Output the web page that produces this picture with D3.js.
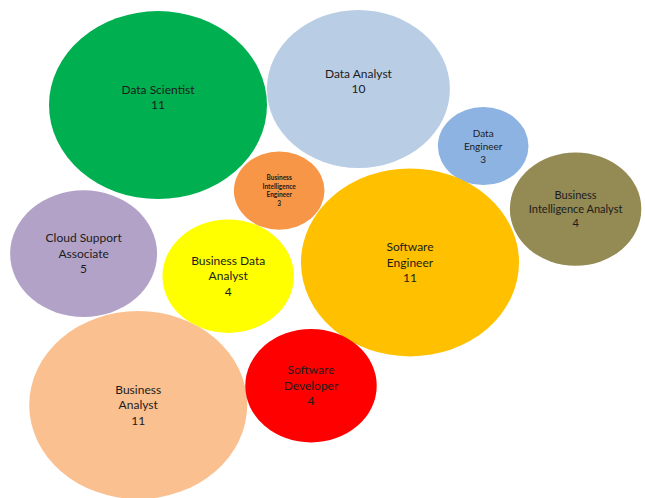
<!DOCTYPE html>
<html>
<head>
<meta charset="utf-8">
<script src="https://cdn.jsdelivr.net/npm/d3@7"></script>
<style>
  html, body { margin: 0; padding: 0; background: #fff; }
  svg { display: block; }
  .bubble-label { font-family: "Lato", "Open Sans", sans-serif; fill: #1c1c1c; }
</style>
</head>
<body>
<div id="chart"></div>
<script>
// job titles, counts shown in the labels, and bubble positions/sizes
const jobTitles = [
  "Data Scientist",
  "Data Analyst",
  "Data Engineer",
  "Business Intelligence Engineer",
  "Business Intelligence Analyst",
  "Software Engineer",
  "Cloud Support Associate",
  "Business Data Analyst",
  "Business Analyst",
  "Software Developer",
];

const jobCounts = [11, 10, 3, 3, 4, 11, 5, 4, 11, 4];

// x / y in chart units (0-10), bubble size as drawn (area)
const xValues = [2.3, 5.64, 7.72, 4.32, 9.26, 6.5, 1.06, 3.47, 1.97, 4.85];
const yValues = [8.15, 8.5, 7.26, 6.29, 5.89, 4.73, 4.92, 4.43, 1.63, 2.05];
const bubbleSizes = [11, 7.75, 1.9, 1.9, 4, 11, 5, 4, 11, 4];

// label text split into lines as in the reference
const labelLines = [
  ["Data Scientist"],
  ["Data Analyst"],
  ["Data", "Engineer"],
  ["Business", "Intelligence", "Engineer"],
  ["Business", "Intelligence Analyst"],
  ["Software", "Engineer"],
  ["Cloud Support", "Associate"],
  ["Business Data", "Analyst"],
  ["Business", "Analyst"],
  ["Software", "Developer"],
];

const colorMap = new Map([
  ["Data Scientist", "#00b050"],
  ["Data Analyst", "#b9cde5"],
  ["Data Engineer", "#8db3e2"],
  ["Business Intelligence Engineer", "#f79646"],
  ["Business Intelligence Analyst", "#948a54"],
  ["Software Engineer", "#ffc000"],
  ["Cloud Support Associate", "#b3a2c7"],
  ["Business Data Analyst", "#ffff00"],
  ["Business Analyst", "#fac090"],
  ["Software Developer", "#ff0000"],
]);

// label font size (px) per bubble; excel shrank some labels
const fontMap = new Map([
  ["Data Engineer", 10],
  ["Business Intelligence Engineer", 6.5],
  ["Business Intelligence Analyst", 11],
]);

const width = 645;
const height = 498;

const data = jobTitles.map((name, i) => ({
  name,
  count: jobCounts[i],
  x: xValues[i],
  y: yValues[i],
  size: bubbleSizes[i],
  lines: labelLines[i].concat([String(jobCounts[i])]),
}));

const svg = d3
  .select("#chart")
  .append("svg")
  .attr("width", width)
  .attr("height", height);

const x = d3.scaleLinear().domain([0, 10]).range([20, 620]);
const y = d3.scaleLinear().domain([0, 10]).range([480, 20]);

// bubbles are stretched horizontally in the original
const rx = d3.scaleSqrt().domain([0, 11]).range([0, 109]);
const ry = d3.scaleSqrt().domain([0, 11]).range([0, 94]);

const bubbles = svg
  .append("g")
  .attr("class", "bubbles")
  .selectAll("g")
  .data(data)
  .join("g")
  .attr("transform", (d) => `translate(${x(d.x)},${y(d.y)})`);

bubbles
  .append("ellipse")
  .attr("rx", (d) => rx(d.size))
  .attr("ry", (d) => ry(d.size))
  .attr("fill", (d) => colorMap.get(d.name));

bubbles.each(function (d) {
  const g = d3.select(this);
  const fs = fontMap.get(d.name) || 12;
  const lineH = fs * 1.3;
  // 2-line labels sit like 3-line ones (value on centre line)
  const n = Math.max(3, d.lines.length);
  const top = -((n - 1) * lineH) / 2;
  const text = g
    .append("text")
    .attr("class", "bubble-label")
    .attr("text-anchor", "middle")
    .attr("font-size", fs)
    .attr("font-weight", fs < 8 ? "bold" : "normal");
  d.lines.forEach((line, i) => {
    text
      .append("tspan")
      .attr("x", 0)
      .attr("y", top + i * lineH)
      .attr("dy", "0.35em")
      .text(line);
  });
});
</script>
</body>
</html>
